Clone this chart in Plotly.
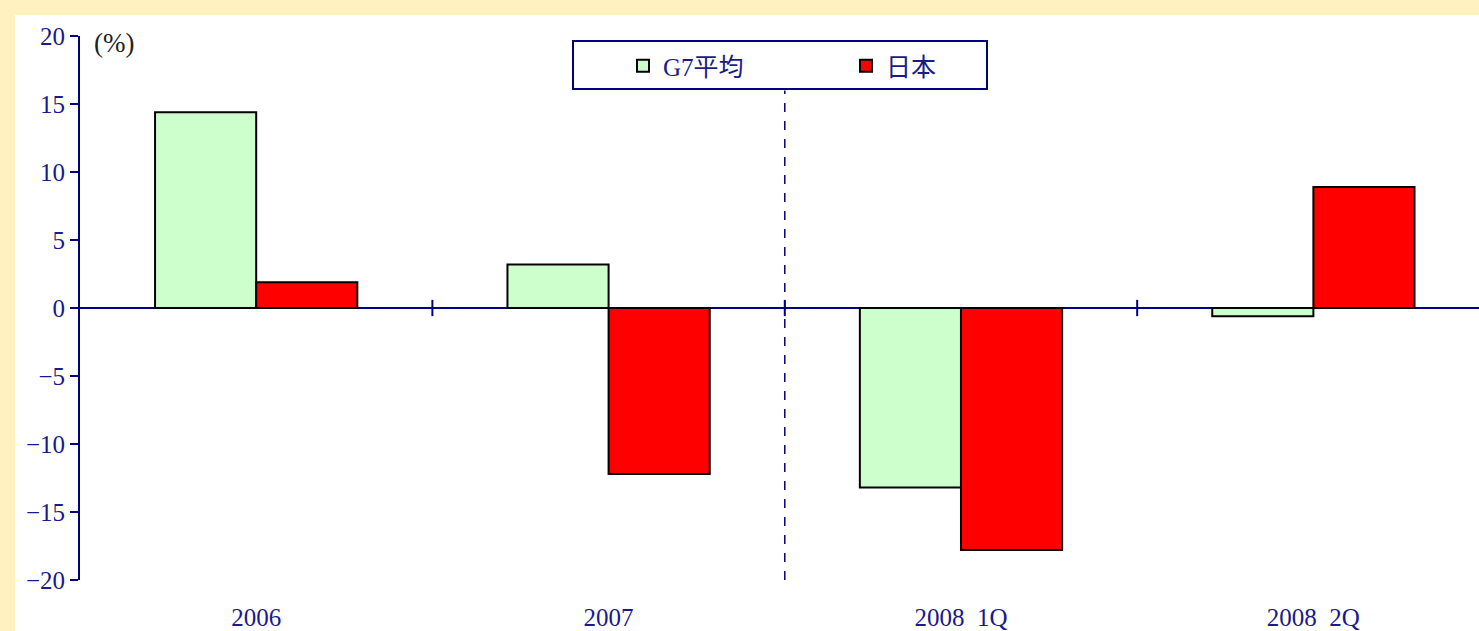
import plotly.graph_objects as go

categories = ["2006", "2007", "2008  1Q", "2008  2Q"]
g7_avg = [14.4, 3.2, -13.2, -0.6]
japan = [1.9, -12.2, -17.8, 8.9]
series_names = ["G7平均", "日本"]
y_ticks = [-20, -15, -10, -5, 0, 5, 10, 15, 20]

NAVY = "#000080"
TXT = "#1a1a8c"
FONT = "Liberation Serif, Noto Sans CJK JP, serif"

W, H = 1479, 631
ML, MR, MT, MB = 80, 0, 36, 51
PW = W - ML - MR
PH = H - MT - MB


def px_x(p):
    return (p - ML) / PW


def px_y(p):
    return (H - MB - p) / PH


fig = go.Figure()
fig.add_trace(go.Bar(x=categories, y=g7_avg, name=series_names[0],
                     marker=dict(color="#CCFFCC", line=dict(color="black", width=2))))
fig.add_trace(go.Bar(x=categories, y=japan, name=series_names[1],
                     marker=dict(color="#FF0000", line=dict(color="black", width=2))))

shapes = []
# white panel over yellow frame
shapes.append(dict(type="rect", xref="paper", yref="paper", layer="below",
                   x0=px_x(15), x1=1.0, y0=px_y(H), y1=px_y(15),
                   fillcolor="white", line=dict(width=0)))
# boundary ticks on the zero line
for i in range(len(categories) - 1):
    shapes.append(dict(type="line", xref="x", yref="y", x0=i + 0.5, x1=i + 0.5,
                       y0=-0.6, y1=0.6, line=dict(color=NAVY, width=2)))
# dashed separator between annual and quarterly data
shapes.append(dict(type="line", xref="x", yref="y", x0=1.5, x1=1.5, y0=-20, y1=16,
                   line=dict(color=NAVY, width=1.5, dash="dash")))
# legend box
shapes.append(dict(type="rect", xref="paper", yref="paper",
                   x0=px_x(573), x1=px_x(987), y0=px_y(89), y1=px_y(41),
                   fillcolor="rgba(0,0,0,0)", line=dict(color=NAVY, width=2)))

fig.update_layout(
    width=W, height=H,
    margin=dict(l=ML, r=MR, t=MT, b=MB, pad=0),
    paper_bgcolor="#FFF2C0",
    plot_bgcolor="white",
    barmode="group",
    bargap=0.426,
    bargroupgap=0,
    font=dict(family=FONT, size=25, color=TXT),
    showlegend=True,
    legend=dict(orientation="h", x=px_x(623), y=px_y(43), xanchor="left", yanchor="top",
                bgcolor="rgba(0,0,0,0)", borderwidth=0,
                entrywidth=178, entrywidthmode="pixels",
                font=dict(family=FONT, size=25, color=TXT),
                traceorder="normal"),
    shapes=shapes,
    annotations=[dict(text="(%)", xref="paper", yref="paper", x=px_x(92), y=px_y(43),
                      xanchor="left", yanchor="middle", showarrow=False,
                      font=dict(family=FONT, size=27, color="#222222"))],
    xaxis=dict(type="category", range=[-0.5, 3.47], showline=False, ticks="",
               showgrid=False, zeroline=False, ticklabelstandoff=20,
               tickfont=dict(family=FONT, size=25, color=TXT)),
    yaxis=dict(range=[-20, 20], tickvals=y_ticks, ticks="outside", ticklen=8,
               tickwidth=2, tickcolor=NAVY, showline=True, linecolor=NAVY, linewidth=2,
               showgrid=False, zeroline=True, zerolinecolor=NAVY, zerolinewidth=2,
               tickfont=dict(family=FONT, size=25, color=TXT)),
)

fig.write_html("out.html", config={"displayModeBar": False},
               post_script="document.body.style.margin='0';")
